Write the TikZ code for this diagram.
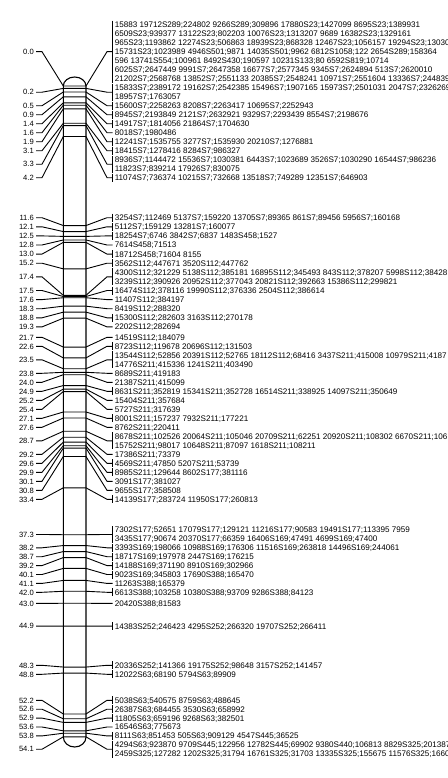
\documentclass[tikz,border=0pt]{standalone}
\usepackage{fontspec}
\setmainfont{Liberation Sans}
\tikzset{
 conn/.style={line width=0.9bp, black},
 chrom/.style={line width=1.1bp, black},
 lab/.style={font=\fontsize{7.6bp}{8bp}\selectfont, inner sep=0pt, anchor=base east},
 txt/.style={font=\fontsize{8.1bp}{9bp}\selectfont, inner sep=0pt, anchor=base west},
}
\newcommand{\mkmark}[4]{%
  \coordinate (m#1L) at (63.3,{86+12.03*#2});
  \coordinate (m#1R) at (86,{86+12.03*#2});
  \node[lab] (l#1) at (34,{#4+2.7}) {#3};
  \coordinate (a#1) at (36,#4);
  \coordinate (b#1) at (42,#4);
  \coordinate (c#1) at (107,#4);
  \coordinate (d#1) at (112.7,#4);
  \draw[conn] (a#1) -- (b#1) -- (m#1L) -- (m#1R) -- (c#1) -- (d#1);
}
\newcommand{\mkbar}[3]{%
  \coordinate (u#1) at (112.7,{#2-4});
  \coordinate (v#1) at (112.7,{#3+4});
  \draw[conn] (u#1) -- (v#1);
}
\newcommand{\txtline}[3]{\node[txt] (t#1) at (114.6,{#2+2.9}) {#3};}
\begin{document}
\begin{tikzpicture}[x=1bp,y=-1bp]
\useasboundingbox (0,0) rectangle (448,778);
% ---------- top block
\mkmark{a}{0.0}{0.0}{51.7}\mkbar{a}{24.7}{78.7}
\txtline{a1}{24.7}{15883 19712S289;224802 9266S289;309896 17880S23;1427099 8695S23;1389931}
\txtline{a2}{33.7}{6509S23;939377 13122S23;802203 10076S23;1313207 9689 16382S23;1329161}
\txtline{a3}{42.7}{965S23;1193862 12274S23;506863 18939S23;868328 12467S23;1056157 19294S23;13030}
\txtline{a4}{51.7}{15731S23;1023989 4946S501;9871 14035S501;9962 6812S1058;122 2654S289;158364}
\txtline{a5}{60.7}{596 13741S554;100961 8492S430;190597 10231S133;80 6592S819;10714}
\txtline{a6}{69.7}{6025S7;2647449 9991S7;2647358 16677S7;2577345 9345S7;2624894 513S7;2620010}
\txtline{a7}{78.7}{21202S7;2568768 13852S7;2551133 20385S7;2548241 10971S7;2551604 13336S7;244839}
\mkmark{b}{0.2}{0.2}{92.2}\mkbar{b}{87.7}{96.7}
\txtline{b1}{87.7}{15833S7;2389172 19162S7;2542385 15496S7;1907165 15973S7;2501031 2047S7;2326269}
\txtline{b2}{96.7}{18957S7;1763057}
\mkmark{c}{0.5}{0.5}{105.7}\mkbar{c}{105.7}{105.7}
\txtline{c1}{105.7}{15600S7;2258263 8208S7;2263417 10695S7;2252943}
\mkmark{d}{0.9}{0.9}{114.7}\mkbar{d}{114.7}{114.7}
\txtline{d1}{114.7}{8945S7;2193849 2121S7;2632921 9329S7;2293439 8554S7;2198676}
\mkmark{e}{1.4}{1.4}{123.7}\mkbar{e}{123.7}{123.7}
\txtline{e1}{123.7}{14917S7;1814056 21864S7;1704630}
\mkmark{f}{1.6}{1.6}{132.7}
\txtline{f1}{132.7}{8018S7;1980486}
\mkmark{g}{1.9}{1.9}{141.7}\mkbar{g}{141.7}{141.7}
\txtline{g1}{141.7}{12241S7;1535755 3277S7;1535930 20210S7;1276881}
\mkmark{h}{3.1}{3.1}{150.7}\mkbar{h}{150.7}{150.7}
\txtline{h1}{150.7}{18415S7;1278416 8284S7;986327}
\mkmark{i}{3.3}{3.3}{164.2}\mkbar{i}{159.7}{168.7}
\txtline{i1}{159.7}{8936S7;1144472 15536S7;1030381 6443S7;1023689 3526S7;1030290 16544S7;986236}
\txtline{i2}{168.7}{11823S7;839214 17926S7;830075}
\mkmark{j}{4.2}{4.2}{177.7}\mkbar{j}{177.7}{177.7}
\txtline{j1}{177.7}{11074S7;736374 10215S7;732668 13518S7;749289 12351S7;646903}
% ---------- middle block
\mkmark{k}{11.6}{11.6}{217.7}\mkbar{k}{217.7}{217.7}
\txtline{k1}{217.7}{3254S7;112469 5137S7;159220 13705S7;89365 861S7;89456 5956S7;160168}
\mkmark{l}{12.1}{12.1}{226.8}\mkbar{l}{226.8}{226.8}
\txtline{l1}{226.8}{5112S7;159129 13281S7;160077}
\mkmark{m}{12.5}{12.5}{235.9}\mkbar{m}{235.9}{235.9}
\txtline{m1}{235.9}{18254S7;6746 3842S7;6837 1483S458;1527}
\mkmark{n}{12.8}{12.8}{245.0}
\txtline{n1}{245.0}{7614S458;71513}
\mkmark{o}{13.0}{13.0}{254.1}\mkbar{o}{254.1}{254.1}
\txtline{o1}{254.1}{18712S458;71604 8155}
\mkmark{p}{15.2}{15.2}{263.2}\mkbar{p}{263.2}{263.2}
\txtline{p1}{263.2}{3562S112;447671 3520S112;447762}
\mkmark{q}{17.4}{17.4}{276.85}\mkbar{q}{272.3}{281.4}
\txtline{q1}{272.3}{4300S112;321229 5138S112;385181 16895S112;345493 843S112;378207 5998S112;38428}
\txtline{q2}{281.4}{3239S112;390926 20952S112;377043 20821S112;392663 15386S112;299821}
\mkmark{r}{17.5}{17.5}{290.5}\mkbar{r}{290.5}{290.5}
\txtline{r1}{290.5}{16474S112;378116 19990S112;376336 2504S112;386614}
\mkmark{s}{17.6}{17.6}{299.6}
\txtline{s1}{299.6}{11407S112;384197}
\mkmark{t}{18.3}{18.3}{308.7}
\txtline{t1}{308.7}{8419S112;288320}
\mkmark{u}{18.8}{18.8}{317.8}\mkbar{u}{317.8}{317.8}
\txtline{u1}{317.8}{15300S112;282603 3163S112;270178}
\mkmark{v}{19.3}{19.3}{326.9}
\txtline{v1}{326.9}{2202S112;282694}
\mkmark{w}{21.7}{21.7}{337.3}
\txtline{w1}{337.3}{14519S112;184079}
\mkmark{x}{22.6}{22.6}{346.3}\mkbar{x}{346.3}{346.3}
\txtline{x1}{346.3}{8723S112;119678 20696S112;131503}
\mkmark{y}{23.5}{23.5}{359.8}\mkbar{y}{355.3}{364.3}
\txtline{y1}{355.3}{13544S112;52856 20391S112;52765 18112S112;68416 3437S211;415008 10979S211;4187}
\txtline{y2}{364.3}{14776S211;415336 1241S211;403490}
\mkmark{z}{23.8}{23.8}{373.3}
\txtline{z1}{373.3}{8689S211;419183}
\mkmark{aa}{24.0}{24.0}{382.3}
\txtline{aa1}{382.3}{21387S211;415099}
\mkmark{ab}{24.9}{24.9}{391.3}\mkbar{ab}{391.3}{391.3}
\txtline{ab1}{391.3}{8631S211;352819 15341S211;352728 16514S211;338925 14097S211;350649}
\mkmark{ac}{25.2}{25.2}{400.3}
\txtline{ac1}{400.3}{15404S211;357684}
\mkmark{ad}{25.4}{25.4}{409.3}
\txtline{ad1}{409.3}{5727S211;317639}
\mkmark{ae}{27.1}{27.1}{418.3}\mkbar{ae}{418.3}{418.3}
\txtline{ae1}{418.3}{8001S211;157237 7932S211;177221}
\mkmark{af}{27.6}{27.6}{427.3}
\txtline{af1}{427.3}{8762S211;220411}
\mkmark{ag}{28.7}{28.7}{440.8}\mkbar{ag}{436.3}{445.3}
\txtline{ag1}{436.3}{8678S211;102526 20064S211;105046 20709S211;62251 20920S211;108302 6670S211;106}
\txtline{ag2}{445.3}{15752S211;98017 10648S211;87097 1618S211;108211}
\mkmark{ah}{29.2}{29.2}{454.3}
\txtline{ah1}{454.3}{17386S211;73379}
\mkmark{ai}{29.6}{29.6}{463.3}\mkbar{ai}{463.3}{463.3}
\txtline{ai1}{463.3}{4569S211;47850 5207S211;53739}
\mkmark{aj}{29.9}{29.9}{472.3}\mkbar{aj}{472.3}{472.3}
\txtline{aj1}{472.3}{8985S211;129644 8602S177;381116}
\mkmark{ak}{30.1}{30.1}{481.3}
\txtline{ak1}{481.3}{3091S177;381027}
\mkmark{al}{30.8}{30.8}{490.3}
\txtline{al1}{490.3}{9655S177;358508}
\mkmark{am}{33.4}{33.4}{499.3}\mkbar{am}{499.3}{499.3}
\txtline{am1}{499.3}{14139S177;283724 11950S177;260813}
% ---------- lower block
\mkmark{an}{37.3}{37.3}{534.45}\mkbar{an}{530.0}{538.9}
\txtline{an1}{530.0}{7302S177;52651 17079S177;129121 11216S177;90583 19491S177;113395 7959}
\txtline{an2}{538.9}{3435S177;90674 20370S177;66359 16406S169;47491 4699S169;47400}
\mkmark{ao}{38.2}{38.2}{547.8}\mkbar{ao}{547.8}{547.8}
\txtline{ao1}{547.8}{3393S169;198066 10988S169;176306 11516S169;263818 14496S169;244061}
\mkmark{ap}{38.7}{38.7}{556.7}\mkbar{ap}{556.7}{556.7}
\txtline{ap1}{556.7}{18717S169;197978 2447S169;176215}
\mkmark{aq}{39.2}{39.2}{565.6}\mkbar{aq}{565.6}{565.6}
\txtline{aq1}{565.6}{14188S169;371190 8910S169;302966}
\mkmark{ar}{40.1}{40.1}{574.5}\mkbar{ar}{574.5}{574.5}
\txtline{ar1}{574.5}{9023S169;345803 17690S388;165470}
\mkmark{as}{41.1}{41.1}{583.4}
\txtline{as1}{583.4}{11263S388;165379}
\mkmark{at}{42.0}{42.0}{592.3}\mkbar{at}{592.3}{592.3}
\txtline{at1}{592.3}{6613S388;103258 10380S388;93709 9286S388;84123}
\mkmark{au}{43.0}{43.0}{603.3}
\txtline{au1}{603.3}{20420S388;81583}
\mkmark{av}{44.9}{44.9}{626.1}\mkbar{av}{626.1}{626.1}
\txtline{av1}{626.1}{14383S252;246423 4295S252;266320 19707S252;266411}
\mkmark{aw}{48.3}{48.3}{665.3}\mkbar{aw}{665.3}{665.3}
\txtline{aw1}{665.3}{20336S252;141366 19175S252;98648 3157S252;141457}
\mkmark{ax}{48.8}{48.8}{674.3}\mkbar{ax}{674.3}{674.3}
\txtline{ax1}{674.3}{12022S63;68190 5794S63;89909}
\mkmark{ay}{52.2}{52.2}{700.3}\mkbar{ay}{700.3}{700.3}
\txtline{ay1}{700.3}{5038S63;540575 8759S63;488645}
\mkmark{az}{52.6}{52.6}{709.2}\mkbar{az}{709.2}{709.2}
\txtline{az1}{709.2}{26387S63;684455 3530S63;658992}
\mkmark{ba}{52.9}{52.9}{718.1}\mkbar{ba}{718.1}{718.1}
\txtline{ba1}{718.1}{11805S63;659196 9268S63;382501}
\mkmark{bb}{53.6}{53.6}{727.0}
\txtline{bb1}{727.0}{16546S63;775673}
\mkmark{bc}{53.8}{53.8}{735.9}\mkbar{bc}{735.9}{735.9}
\txtline{bc1}{735.9}{8111S63;851453 505S63;909129 4547S445;36525}
\mkmark{bd}{54.1}{54.1}{749.25}\mkbar{bd}{744.8}{753.7}
\txtline{bd1}{744.8}{4294S63;923870 9709S445;122956 12782S445;69902 9380S440;106813 8829S325;201387}
\txtline{bd2}{753.7}{2459S325;127282 1202S325;31794 16761S325;31703 13335S325;155675 11576S325;1660}
% ---------- chromosome
\draw[chrom] (63.3,737) -- (63.3,86) arc[start angle=180,end angle=360,x radius=11.35,y radius=9] -- (86,737) arc[start angle=0,end angle=180,x radius=11.35,y radius=10] -- cycle;
\end{tikzpicture}
\end{document}
